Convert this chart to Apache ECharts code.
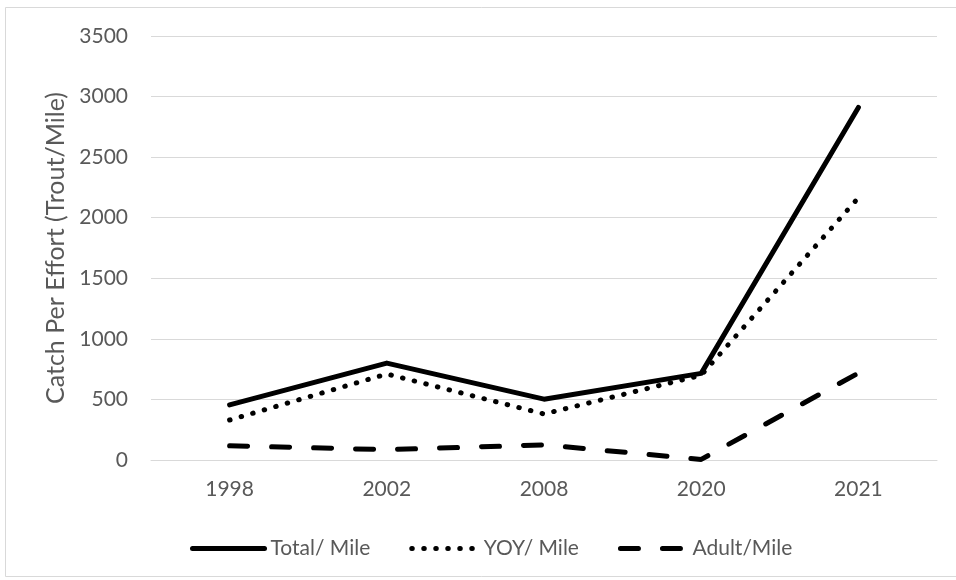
<!DOCTYPE html>
<html><head><meta charset="utf-8">
<script src="https://cdn.jsdelivr.net/npm/echarts@6/dist/echarts.min.js"></script>
<style>html,body{margin:0;padding:0;background:#fff}#c{width:956px;height:580px}</style>
</head><body><div id="c"></div>
<script>
const categories = ['1998', '2002', '2008', '2020', '2021'];
const totalPerMile = [455, 800, 502, 715, 2910];
const yoyPerMile = [330, 710, 380, 700, 2165];
const adultPerMile = [118, 85, 125, 5, 718];
const seriesNames = ['Total/ Mile', 'YOY/ Mile', 'Adult/Mile'];
const yTicks = { min: 0, max: 3500, interval: 500 };
const yAxisTitle = 'Catch Per Effort (Trout/Mile)';

const FONT = 'Lato';
const TXT = '#595959';
const chart = echarts.init(document.getElementById('c'), null, { renderer: 'canvas' });
const lineBase = (name, data, lineType) => ({
  name, type: 'line', data, symbol: 'none', smooth: false,
  lineStyle: { color: '#000', width: 5, type: lineType, cap: 'round', join: 'round' },
  itemStyle: { color: '#000' },
  emphasis: { disabled: true }
});
chart.setOption({
  animation: false,
  backgroundColor: '#fff',
  graphic: [{ type: 'rect', shape: { x: 5.5, y: 7.5, width: 1000, height: 569 }, style: { fill: 'none', stroke: '#d9d9d9', lineWidth: 1 }, silent: true }],
  grid: { left: 151, right: 19, top: 36, bottom: 120 },
  legend: {
    top: 533, left: 185, itemWidth: 72, itemHeight: 14, itemGap: 33,
    itemStyle: { opacity: 0 },
    lineStyle: { width: 5, cap: 'round', join: 'round' },
    textStyle: { fontFamily: FONT, fontSize: 21, color: TXT, padding: [0, 0, 0, 1] },
    data: [
      { name: seriesNames[0] },
      { name: seriesNames[1], lineStyle: { dashOffset: -6 } },
      { name: seriesNames[2] }
    ]
  },
  xAxis: {
    type: 'category', data: categories, boundaryGap: true,
    axisLine: { show: true, lineStyle: { color: '#d9d9d9', width: 1 } },
    axisTick: { show: false },
    axisLabel: { fontFamily: FONT, fontSize: 21, color: TXT, margin: 19 }
  },
  yAxis: {
    type: 'value', min: yTicks.min, max: yTicks.max, interval: yTicks.interval,
    name: yAxisTitle, nameLocation: 'middle', nameGap: 81,
    nameTextStyle: { fontFamily: FONT, fontSize: 25, color: TXT },
    axisLine: { show: false }, axisTick: { show: false },
    axisLabel: { fontFamily: FONT, fontSize: 21, color: TXT, margin: 23, formatter: v => String(v) },
    splitLine: { lineStyle: { color: '#d9d9d9', width: 1 } }
  },
  series: [
    lineBase(seriesNames[0], totalPerMile, 'solid'),
    lineBase(seriesNames[1], yoyPerMile, [0.5, 11.5]),
    lineBase(seriesNames[2], adultPerMile, [18, 24])
  ]
});
</script></body></html>
